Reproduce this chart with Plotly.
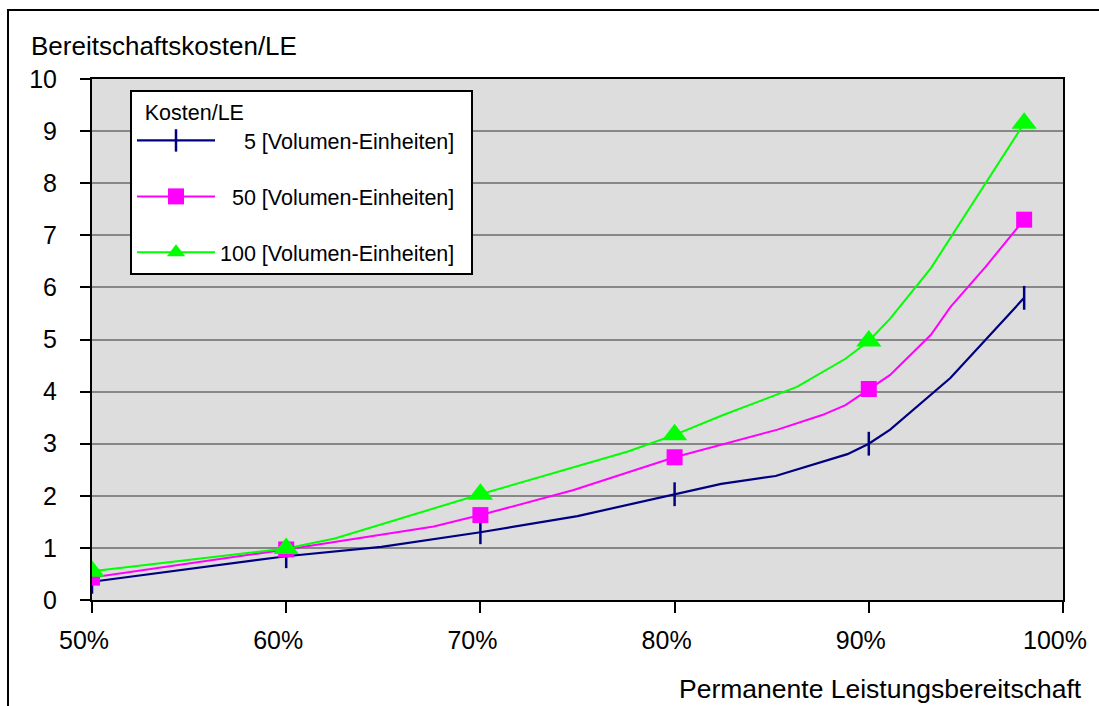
import plotly.graph_objects as go

# ---- data ----
x_5 = [0.50, 0.60, 0.649, 0.70, 0.75, 0.80, 0.824, 0.852, 0.889, 0.90, 0.911, 0.942, 0.98]
y_5 = [0.35, 0.84, 1.02, 1.30, 1.61, 2.03, 2.23, 2.38, 2.80, 3.00, 3.27, 4.26, 5.80]

x_50 = [0.50, 0.60, 0.676, 0.70, 0.748, 0.80, 0.853, 0.876, 0.888, 0.90, 0.911, 0.932, 0.942, 0.96, 0.98]
y_50 = [0.43, 0.97, 1.41, 1.63, 2.11, 2.74, 3.27, 3.55, 3.74, 4.05, 4.32, 5.09, 5.62, 6.39, 7.30]

x_100 = [0.50, 0.60, 0.625, 0.70, 0.776, 0.80, 0.825, 0.852, 0.863, 0.888, 0.90, 0.911, 0.932, 0.98]
y_100 = [0.55, 0.99, 1.18, 2.03, 2.85, 3.17, 3.55, 3.93, 4.09, 4.63, 4.97, 5.40, 6.37, 9.15]

marker_x = [0.50, 0.60, 0.70, 0.80, 0.90, 0.98]

series_names = ["5 [Volumen-Einheiten]", "50 [Volumen-Einheiten]", "100 [Volumen-Einheiten]"]
legend_pad = ["\u2007\u2007", "\u2007", ""]
legend_title = "Kosten/LE"
y_title = "Bereitschaftskosten/LE"
x_title = "Permanente Leistungsbereitschaft"

FONT = "Arial, 'Liberation Sans', Helvetica, sans-serif"

styles = [
    dict(color="#000080", symbol="line-ns", size=17, mline=dict(color="#000080", width=2.5), lw=2.2),
    dict(color="#ff00ff", symbol="square", size=16, mline=dict(width=0), lw=2),
    dict(color="#00ff00", symbol="triangle-up", size=22, mline=dict(width=0), lw=2),
]

data = [(x_5, y_5), (x_50, y_50), (x_100, y_100)]

fig = go.Figure()
for (xs, ys), st in zip(data, styles):
    fig.add_trace(go.Scatter(x=xs, y=ys, mode="lines",
                             line=dict(color=st["color"], width=st["lw"]),
                             showlegend=False, hoverinfo="skip"))
for (xs, ys), st in zip(data, styles):
    mx = list(marker_x)
    my = [ys[xs.index(x)] for x in marker_x]
    fig.add_trace(go.Scatter(x=mx, y=my, mode="markers",
                             marker=dict(symbol=st["symbol"], size=st["size"], color=st["color"],
                                         line=st["mline"]),
                             showlegend=False))
for i, (name, st) in enumerate(zip(series_names, styles)):
    fig.add_trace(go.Scatter(x=[None], y=[None], mode="lines+markers",
                             name=legend_pad[i] + name + "\u2002", legendgroup=f"g{i}",
                             line=dict(color=st["color"], width=st["lw"]),
                             marker=dict(symbol=st["symbol"], size=st["size"], color=st["color"],
                                         line=st["mline"])))

W, H = 1099, 706
L, R, T, B = 92, 36, 79, 106
pw, ph = W - L - R, H - T - B

def px(xp):
    return (xp - L) / pw

def py(yp):
    return (H - B - yp) / ph

fig.update_layout(
    width=W, height=H,
    margin=dict(l=L, r=R, t=T, b=B),
    paper_bgcolor="white",
    plot_bgcolor="#dddddd",
    font=dict(family=FONT, size=25, color="black"),
    legend=dict(
        x=px(130), y=py(90), xanchor="left", yanchor="top",
        bgcolor="white", bordercolor="black", borderwidth=2,
        font=dict(size=21.5),
        title=dict(text="\u2002" + legend_title, font=dict(size=21.5)),
        itemwidth=78, tracegroupgap=25, traceorder="grouped",
    ),
    showlegend=True,
    shapes=[dict(type="rect", xref="paper", yref="paper",
                 x0=px(8), x1=px(1120), y0=py(725), y1=py(10),
                 line=dict(color="black", width=2), fillcolor="rgba(0,0,0,0)", layer="below")],
    annotations=[
        dict(text=y_title, xref="paper", yref="paper", x=px(29), y=py(46),
             xanchor="left", yanchor="middle", showarrow=False, font=dict(size=26)),
        dict(text=x_title, xref="paper", yref="paper", x=px(1084), y=py(689),
             xanchor="right", yanchor="middle", showarrow=False, font=dict(size=26.5)),
    ],
)
fig.update_xaxes(range=[0.5, 1.0], dtick=0.1, tick0=0.5, tickformat=".0%",
                 showgrid=False, zeroline=False, showline=True, linecolor="black", linewidth=2,
                 mirror=True, ticks="outside", ticklen=11, tickwidth=2, tickcolor="black",
                 ticklabelstandoff=6, ticklabelshift=-8)
fig.update_yaxes(range=[0, 10], dtick=1, showgrid=True, gridcolor="#878787", gridwidth=2,
                 zeroline=False, showline=True, linecolor="black", linewidth=2, mirror=True,
                 ticks="outside", ticklen=10, tickwidth=2, tickcolor="black",
                 ticklabelstandoff=18)

fig.write_html("out.html")
